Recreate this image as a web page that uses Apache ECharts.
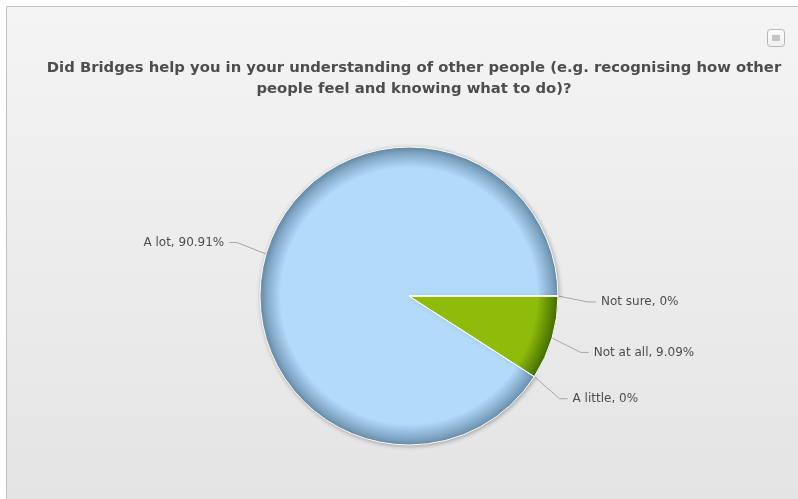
<!DOCTYPE html>
<html>
<head>
<meta charset="utf-8">
<script src="https://cdn.jsdelivr.net/npm/echarts@6/dist/echarts.min.js"></script>
<style>
  html, body { margin: 0; padding: 0; background: #ffffff; }
  #chart { width: 798px; height: 499px; }
</style>
</head>
<body>
<div id="chart"></div>
<script>
// Survey answers and their shares (percent)
const answers = ['A lot', 'A little', 'Not at all', 'Not sure'];
const shares = [90.91, 0, 9.09, 0];
const baseColors = ['#b3dbf9', '#b3dbf9', '#8fbb0b', '#b3dbf9'];
const edgeColors = ['#6a90ae', '#6a90ae', '#436c00', '#6a90ae'];
const questionTitle = 'Did Bridges help you in your understanding of other people (e.g. recognising how other\npeople feel and knowing what to do)?';

const CX = 409, CY = 296, R = 149;

function shade(i) {
  return {
    type: 'radial', x: CX, y: CY, r: R, global: true,
    colorStops: [
      { offset: 0, color: baseColors[i] },
      { offset: 0.86, color: baseColors[i] },
      { offset: 1, color: edgeColors[i] }
    ]
  };
}

const pieData = answers.map((name, i) => ({
  name: name,
  value: shares[i],
  itemStyle: Object.assign(
    { color: shade(i) },
    i === 0 ? { shadowBlur: 4, shadowOffsetX: 1, shadowOffsetY: 1, shadowColor: 'rgba(0,0,0,0.28)' } : {}
  )
}));

// labels on the right sit a little lower than their connector anchor, those on the left a little higher
function nudgeLabel(params) {
  const pts = params.labelLinePoints;
  if (!pts) return {};
  const onLeft = pts[2][0] < pts[0][0];
  const dy = onLeft ? -3 : 6;
  return {
    dy: dy,
    labelLinePoints: [
      [pts[0][0], pts[0][1]],
      [pts[1][0], pts[1][1] + dy],
      [pts[2][0], pts[2][1] + dy]
    ]
  };
}

const chart = echarts.init(document.getElementById('chart'), null, { renderer: 'canvas' });

chart.setOption({
  animation: false,
  backgroundColor: '#ffffff',
  graphic: [
    {
      type: 'rect', z: -10, silent: true,
      shape: { x: 6.5, y: 6.5, width: 800, height: 500 },
      style: {
        fill: {
          type: 'linear', x: 0, y: 0, x2: 0, y2: 1,
          colorStops: [
            { offset: 0, color: '#f4f4f4' },
            { offset: 1, color: '#e4e4e4' }
          ]
        },
        stroke: '#c0c0c0', lineWidth: 1
      }
    },
    {
      type: 'group', left: 767, top: 29, z: 10,
      children: [
        {
          type: 'rect', shape: { x: 0.5, y: 0.5, width: 17, height: 17, r: 3 },
          style: {
            fill: {
              type: 'linear', x: 0, y: 0, x2: 0, y2: 1,
              colorStops: [{ offset: 0, color: '#ffffff' }, { offset: 1, color: '#eeeeee' }]
            },
            stroke: '#b5b5b5', lineWidth: 1
          }
        },
        { type: 'rect', shape: { x: 5, y: 6, width: 8, height: 6 }, style: { fill: '#c4c4c4' } }
      ]
    }
  ],
  title: {
    text: questionTitle,
    left: 409,
    top: 53,
    textAlign: 'center',
    textStyle: {
      fontFamily: 'DejaVu Sans',
      fontWeight: 'bold',
      fontSize: 14.8,
      lineHeight: 21,
      color: '#4d4d4d'
    }
  },
  series: [
    {
      type: 'pie',
      center: [CX, CY],
      radius: R,
      startAngle: 0,
      clockwise: false,
      minShowLabelAngle: 0,
      avoidLabelOverlap: false,
      data: pieData,
      itemStyle: { borderColor: '#ffffff', borderWidth: 1 },
      label: {
        show: true,
        formatter: '{b}, {c}%',
        fontFamily: 'DejaVu Sans',
        fontSize: 12,
        color: '#4d4d4d'
      },
      labelLine: {
        show: true,
        length: 30,
        length2: 8,
        smooth: false,
        lineStyle: { color: '#a6a6a6', width: 1 }
      },
      labelLayout: nudgeLabel,
      emphasis: { disabled: true }
    }
  ]
});
</script>
</body>
</html>
